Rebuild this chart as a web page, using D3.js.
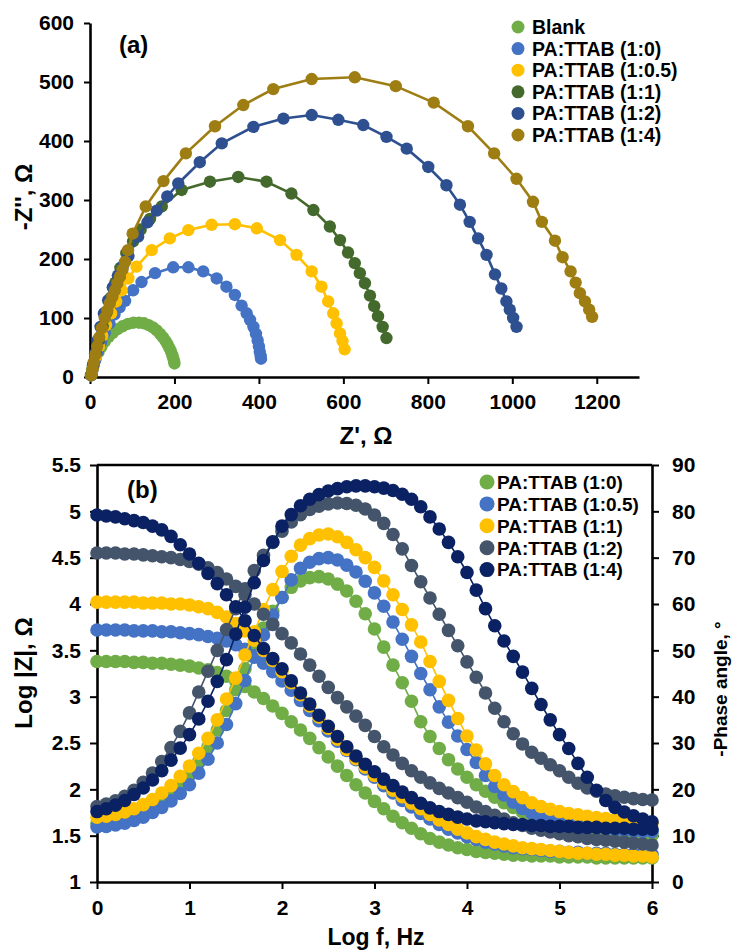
<!DOCTYPE html>
<html>
<head>
<meta charset="utf-8">
<script src="https://cdn.jsdelivr.net/npm/d3@7"></script>
<style>
body{margin:0;background:#fff}
svg text{font-family:"Liberation Sans",Arial,sans-serif;font-weight:bold;fill:#000}
</style>
</head>
<body>
<svg id="fig" width="733" height="951"></svg>
<script>
// ---- (a) Nyquist data: [Z', -Z''] in ohm
var nyqNames = ["Blank","PA:TTAB (1:0)","PA:TTAB (1:0.5)","PA:TTAB (1:1)","PA:TTAB (1:2)","PA:TTAB (1:4)"]
var nyqColors = ["#70AD47","#4472C4","#FFC000","#44692C","#2E5090","#9E7E13"]

var nyqBlank = [[2,3],[5,12],[9,22],[14,32],[20,42],[27,51],[35,60],[44,68],[54,75],[65,81],[77,86],[90,90],[103,92],[116,92],[128,91],[139,88],[149,84],[158,79],[166,73],[173,67],[179,61],[184,55],[188,49],[192,43],[195,37],[197,32],[199,27],[200,23]]
var nyq10 = [[3,3],[7,14],[12,28],[18,43],[26,59],[35,75],[46,91],[58,106],[70,118],[83,129],[102,147],[122,161],[154,176],[197,186],[233,186],[268,179],[300,167],[323,153],[343,139],[359,121],[371,108],[379,97],[387,85],[393,73],[397,62],[400,52],[402,43],[404,36],[405,31]]
var nyq105 = [[3,3],[8,18],[14,35],[21,52],[29,70],[38,88],[50,108],[62,128],[75,147],[91,167],[110,187],[146,215],[189,235],[233,249],[288,258],[343,259],[395,252],[450,232],[489,207],[525,179],[548,153],[564,128],[576,108],[584,91],[592,74],[598,61],[603,47]]
var nyq11 = [[3,3],[8,20],[14,40],[21,62],[30,86],[40,110],[50,135],[60,160],[72,185],[86,210],[102,230],[120,250],[142,268],[170,289],[217,317],[284,331],[351,339],[418,331],[477,311],[529,283],[568,255],[592,232],[611,211],[627,193],[639,176],[651,159],[663,138],[673,120],[682,103],[693,85],[702,66]]
var nyq12 = [[3,3],[7,20],[12,40],[18,62],[25,85],[33,108],[43,130],[54,152],[66,172],[78,188],[91,205],[114,238],[136,262],[158,282],[183,306],[209,328],[260,364],[312,396],[387,424],[458,438],[525,444],[588,436],[647,427],[702,407],[750,387],[801,356],[844,325],[876,292],[899,263],[919,235],[939,207],[959,174],[974,150],[986,128],[994,114],[1002,100],[1010,85]]
var nyq14 = [[3,3],[6,14],[9,25],[13,38],[17,52],[22,67],[28,83],[35,100],[41,113],[47,125],[53,136],[59,147],[65,159],[71,170],[77,182],[83,195],[90,215],[101,243],[132,289],[174,332],[227,379],[296,425],[363,461],[434,488],[525,505],[627,508],[724,493],[814,465],[895,425],[957,379],[1010,336],[1049,297],[1070,263],[1101,231],[1119,203],[1138,179],[1150,160],[1160,142],[1172,128],[1182,114],[1189,102]]
var nyqData = [nyqBlank, nyq10, nyq105, nyq11, nyq12, nyq14]

var nyqXTicks = [0,200,400,600,800,1000,1200]
var nyqYTicks = [0,100,200,300,400,500,600]

// ---- (b) Bode data
var bodeNames = ["PA:TTAB (1:0)","PA:TTAB (1:0.5)","PA:TTAB (1:1)","PA:TTAB (1:2)","PA:TTAB (1:4)"]
var bodeColors = ["#70AD47","#4472C4","#FFC000","#44546A","#0A2263"]

var logF = [0,0.1,0.2,0.3,0.4,0.5,0.6,0.7,0.8,0.9,1,1.1,1.2,1.3,1.4,1.5,1.6,1.7,1.8,1.9,2,2.1,2.2,2.3,2.4,2.5,2.6,2.7,2.8,2.9,3,3.1,3.2,3.3,3.4,3.5,3.6,3.7,3.8,3.9,4,4.1,4.2,4.3,4.4,4.5,4.6,4.7,4.8,4.9,5,5.1,5.2,5.3,5.4,5.5,5.6,5.7,5.8,5.9,6]

var logZ10 = [3.38,3.38,3.38,3.38,3.37,3.37,3.36,3.36,3.35,3.34, 3.33,3.31,3.29,3.26,3.22,3.17,3.11,3.05,2.98,2.90, 2.82,2.73,2.64,2.55,2.45,2.35,2.25,2.15,2.05,1.96, 1.87,1.79,1.71,1.64,1.58,1.52,1.47,1.43,1.40,1.37, 1.35,1.33,1.32,1.31,1.30,1.29,1.29,1.28,1.28,1.28, 1.27,1.27,1.27,1.27,1.26,1.26,1.26,1.26,1.26,1.26, 1.26]
var phase10 = [12.7,12.8,13.1,13.5,14.1,14.9,16.0,17.3,19.0,21.0, 23.3,26.0,29.2,32.8,37.0,41.5,46.0,50.5,54.8,58.4, 61.4,63.6,65.0,65.7,65.9,65.4,64.3,62.8,60.6,57.9, 54.6,50.7,46.8,43.0,39.0,34.6,31.4,28.8,26.4,24.4, 22.6,21.0,19.6,18.3,17.1,16.1,15.1,14.3,13.6,13.0, 12.5,12.1,11.8,11.6,11.4,11.2,11.0,10.8,10.6,10.4, 10.1]

var logZ105 = [3.72,3.72,3.72,3.72,3.71,3.71,3.71,3.70,3.70,3.69, 3.68,3.67,3.65,3.63,3.60,3.56,3.51,3.44,3.36,3.27, 3.17,3.07,2.96,2.85,2.74,2.63,2.52,2.42,2.32,2.22, 2.13,2.04,1.96,1.88,1.81,1.74,1.68,1.62,1.57,1.53, 1.49,1.46,1.43,1.41,1.39,1.37,1.36,1.35,1.34,1.33, 1.33,1.32,1.32,1.31,1.31,1.31,1.30,1.30,1.30,1.30, 1.30]
var phase105 = [11.9,12.0,12.3,12.7,13.3,14.0,15.0,16.1,17.5,19.1, 21.0,23.5,26.5,30.0,34.0,38.5,43.5,48.5,53.3,57.6, 61.4,65.2,67.7,69.0,69.8,70.0,69.5,68.4,66.9,64.9, 62.4,59.5,56.1,52.4,48.7,45.0,41.5,37.8,34.5,31.5, 28.6,25.8,23.0,20.6,18.8,17.2,15.9,14.9,14.2,13.6, 13.1,12.7,12.3,12.0,11.7,11.5,11.3,11.1,11.0,10.9, 10.9]

var logZ11 = [4.02,4.02,4.02,4.02,4.02,4.01,4.01,4.01,4.00,4.00, 3.99,3.97,3.95,3.91,3.86,3.79,3.71,3.61,3.50,3.39, 3.27,3.15,3.02,2.90,2.78,2.66,2.54,2.43,2.33,2.24, 2.15,2.07,1.99,1.92,1.85,1.79,1.73,1.67,1.62,1.57, 1.53,1.49,1.46,1.43,1.41,1.39,1.37,1.36,1.35,1.34, 1.33,1.32,1.31,1.31,1.30,1.30,1.29,1.29,1.28,1.28, 1.27]
var phase11 = [14.0,14.2,14.6,15.1,15.8,16.7,17.8,19.2,20.8,22.8, 25.0,27.8,31.0,35.0,39.5,44.0,49.0,54.0,58.8,63.1, 67.0,70.3,72.7,74.1,74.9,75.1,74.5,73.3,71.7,70.0, 67.9,65.0,62.0,58.8,55.5,51.8,47.6,43.3,39.2,35.3, 31.5,28.5,25.5,23.0,21.0,19.5,18.2,17.1,16.3,15.7, 15.2,14.8,14.5,14.2,13.9,13.7,13.5,13.3,13.1,12.9, 12.7]

var logZ12 = [4.55,4.55,4.55,4.54,4.54,4.53,4.52,4.51,4.50,4.48, 4.46,4.43,4.39,4.34,4.27,4.19,4.10,4.00,3.89,3.78, 3.68,3.58,3.46,3.34,3.22,3.10,2.99,2.89,2.79,2.69, 2.57,2.46,2.37,2.28,2.20,2.13,2.07,2.01,1.96,1.91, 1.86,1.81,1.76,1.72,1.68,1.64,1.61,1.58,1.56,1.54, 1.52,1.50,1.49,1.47,1.46,1.45,1.44,1.43,1.42,1.41, 1.40]
var phase12 = [16.3,16.8,17.5,18.5,19.8,21.5,23.5,26.0,29.0,32.5, 36.5,41.0,45.5,50.0,54.5,59.0,63.3,67.2,70.5,73.3, 75.7,77.7,79.3,80.4,81.1,81.6,81.8,81.7,81.3,80.5, 79.2,77.4,75.0,71.9,68.3,64.8,61.3,57.8,54.3,51.0, 47.5,44.2,40.8,37.5,34.6,32.0,29.8,28.0,26.7,25.3, 24.0,22.6,21.3,20.3,19.6,19.0,18.6,18.3,18.0,17.8, 17.7]

var logZ14 = [4.96,4.95,4.94,4.92,4.90,4.88,4.84,4.80,4.73,4.64, 4.54,4.44,4.33,4.22,4.10,3.97,3.82,3.66,3.52,3.41, 3.30,3.17,3.04,2.92,2.80,2.68,2.57,2.46,2.36,2.27, 2.19,2.11,2.04,1.97,1.91,1.85,1.80,1.76,1.73,1.70, 1.68,1.66,1.65,1.64,1.63,1.62,1.62,1.61,1.61,1.60, 1.60,1.60,1.59,1.59,1.59,1.58,1.58,1.58,1.57,1.57, 1.57]
var phase14 = [15.2,15.8,16.6,17.6,18.9,20.3,22.0,24.0,26.3,28.9, 31.8,35.2,39.0,43.3,48.0,53.5,59.3,64.6,69.4,73.4, 76.8,79.3,81.2,82.6,83.6,84.4,84.9,85.3,85.5,85.5, 85.3,85.0,84.5,83.7,82.6,81.0,78.8,76.2,73.3,70.2, 66.8,63.0,59.0,55.3,52.0,48.7,45.3,41.8,38.3,35.0, 31.8,28.8,25.6,22.6,19.8,17.6,16.1,15.1,14.3,13.6, 13.0]

var bodeZ = [logZ10, logZ105, logZ11, logZ12, logZ14]
var bodeP = [phase10, phase105, phase11, phase12, phase14]

var bodeXTicks = [0,1,2,3,4,5,6]
var bodeYTicks = [1,1.5,2,2.5,3,3.5,4,4.5,5,5.5]
var bodeRTicks = [0,10,20,30,40,50,60,70,80,90]

var svg = d3.select("#fig")
var plain = d3.format("")

function styleAxis(g, fs){
    g.select(".domain").attr("stroke","#000").attr("stroke-width",2.6)
    g.selectAll(".tick line").attr("stroke","#000").attr("stroke-width",2)
    g.selectAll(".tick text").attr("font-size",fs).attr("fill","#000")
        .style("font-family",'"Liberation Sans",Arial,sans-serif').style("font-weight","bold")
}

// ================= (a) =================
var xA = d3.scaleLinear().domain([0,1300]).range([90,639])
var yA = d3.scaleLinear().domain([0,600]).range([377,23])

svg.append("g").attr("transform","translate(0,377)")
    .call(d3.axisBottom(xA).tickValues(nyqXTicks).tickFormat(plain).tickSize(7).tickSizeOuter(0).tickPadding(10))
    .call(g=>styleAxis(g,21))
svg.append("g").attr("transform","translate(90,0)")
    .call(d3.axisLeft(yA).tickValues(nyqYTicks).tickFormat(plain).tickSize(6).tickSizeOuter(0).tickPadding(10))
    .call(g=>styleAxis(g,21))

var lineA = d3.line().x(d=>xA(d[0])).y(d=>yA(d[1]))
nyqData.forEach(function(s,i){
    var g = svg.append("g")
    g.append("path").attr("d",lineA(s)).attr("fill","none")
        .attr("stroke",nyqColors[i]).attr("stroke-width",2.6)
    g.selectAll("circle").data(s).join("circle")
        .attr("cx",d=>xA(d[0])).attr("cy",d=>yA(d[1])).attr("r",6.2)
        .attr("fill",nyqColors[i])
})

svg.append("text").attr("x",119).attr("y",53).attr("font-size",24).text("(a)")
svg.append("text").attr("transform","translate(32,197) rotate(-90)")
    .attr("text-anchor","middle").attr("font-size",24).text("-Z'', Ω")
svg.append("text").attr("x",366).attr("y",444).attr("text-anchor","middle")
    .attr("font-size",24).text("Z', Ω")

var legA = svg.append("g")
nyqNames.forEach(function(n,i){
    var cy = 27 + i*21.6
    legA.append("circle").attr("cx",518).attr("cy",cy).attr("r",6.5).attr("fill",nyqColors[i])
    legA.append("text").attr("x",532).attr("y",cy).attr("dy","0.36em")
        .attr("font-size",19.5).text(n)
})

// ================= (b) =================
var xB = d3.scaleLinear().domain([0,6]).range([97,652])
var yB = d3.scaleLinear().domain([1,5.5]).range([882,465])
var yR = d3.scaleLinear().domain([0,90]).range([882,465])

svg.append("line").attr("x1",97).attr("x2",652).attr("y1",465).attr("y2",465)
    .attr("stroke","#000").attr("stroke-width",2.6)
svg.append("g").attr("transform","translate(0,882)")
    .call(d3.axisBottom(xB).tickValues(bodeXTicks).tickFormat(plain).tickSize(7).tickSizeOuter(0).tickPadding(11))
    .call(g=>styleAxis(g,21))
svg.append("g").attr("transform","translate(97,0)")
    .call(d3.axisLeft(yB).tickValues(bodeYTicks).tickFormat(plain).tickSize(7).tickSizeOuter(0).tickPadding(9))
    .call(g=>styleAxis(g,21))
svg.append("g").attr("transform","translate(652,0)")
    .call(d3.axisRight(yR).tickValues(bodeRTicks).tickFormat(plain).tickSize(7).tickSizeOuter(0).tickPadding(13))
    .call(g=>styleAxis(g,21))

bodeNames.forEach(function(n,i){
    var zPts = logF.map((f,k)=>[f,bodeZ[i][k]])
    var pPts = logF.map((f,k)=>[f,bodeP[i][k]])
    var g = svg.append("g")
    g.append("path").attr("d",d3.line().x(d=>xB(d[0])).y(d=>yB(d[1]))(zPts))
        .attr("fill","none").attr("stroke",bodeColors[i]).attr("stroke-width",1.6)
    g.append("path").attr("d",d3.line().x(d=>xB(d[0])).y(d=>yR(d[1]))(pPts))
        .attr("fill","none").attr("stroke",bodeColors[i]).attr("stroke-width",1.6)
    g.selectAll("circle.z").data(zPts).join("circle").attr("class","z")
        .attr("cx",d=>xB(d[0])).attr("cy",d=>yB(d[1])).attr("r",6.8).attr("fill",bodeColors[i])
    g.selectAll("circle.p").data(pPts).join("circle").attr("class","p")
        .attr("cx",d=>xB(d[0])).attr("cy",d=>yR(d[1])).attr("r",6.8).attr("fill",bodeColors[i])
})

svg.append("text").attr("x",127).attr("y",498).attr("font-size",24).text("(b)")
svg.append("text").attr("transform","translate(32,673) rotate(-90)")
    .attr("text-anchor","middle").attr("font-size",24).text("Log |Z|, Ω")
svg.append("text").attr("transform","translate(727,689) rotate(-90)")
    .attr("text-anchor","middle").attr("font-size",19).text("-Phase angle, °")
svg.append("text").attr("x",376).attr("y",945).attr("text-anchor","middle")
    .attr("font-size",23).text("Log f, Hz")

var legB = svg.append("g")
bodeNames.forEach(function(n,i){
    var cy = 482 + i*21.9
    legB.append("circle").attr("cx",487).attr("cy",cy).attr("r",7.5).attr("fill",bodeColors[i])
    legB.append("text").attr("x",497).attr("y",cy).attr("dy","0.36em")
        .attr("font-size",19).text(n)
})
</script>
</body>
</html>
